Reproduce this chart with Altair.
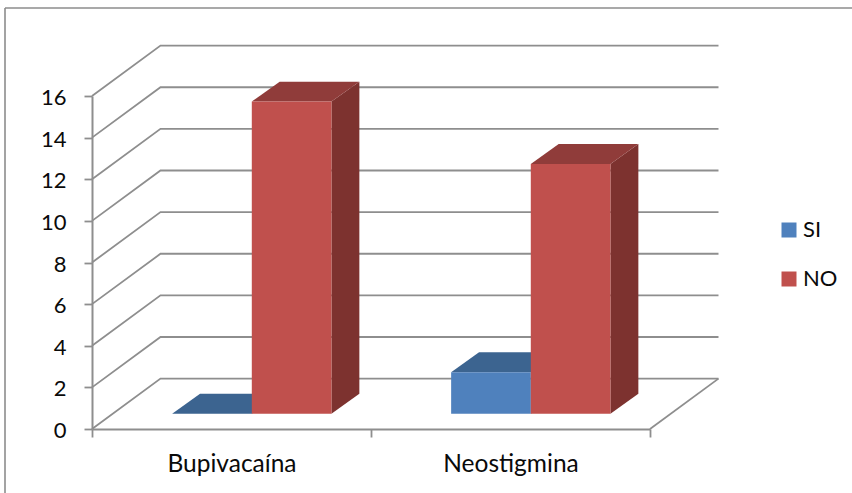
import altair as alt
import pandas as pd

categories = ["Bupivacaína", "Neostigmina"]
series = ["SI", "NO"]
values_si = [0, 2]
values_no = [15, 12]
y_ticks = list(range(0, 17, 2))

# Shades of each series: front face, top face, side face
front = {"SI": "#4F81BD", "NO": "#C0504D"}
top = {"SI": "#3C6490", "NO": "#903C3A"}
side = {"SI": "#345A85", "NO": "#7D322F"}

# Oblique projection, in axis units (one category, one y unit)
wall_dx, wall_dy = 0.2455, 2.42
bar_dx, bar_dy = 0.1, 0.96
bar_w = 0.2855
inset_x, inset_y = (wall_dx - bar_dx) / 2, (wall_dy - bar_dy) / 2
grid_color = "#8E8E8E"
text_color = "#0A0A0A"
font = "Lato"

x_scale = alt.Scale(domain=[0, 2], nice=False, zero=False)
y_scale = alt.Scale(domain=[0, 16], nice=False, zero=False)
X = lambda **kw: alt.X("x:Q", scale=x_scale, **kw)
Y = lambda **kw: alt.Y("y:Q", scale=y_scale, **kw)

# Gridlines running from the front axis, across the side wall, along the back wall
grid_rows = []
for v in y_ticks:
    grid_rows += [
        {"line": v, "o": 0, "x": 0, "y": v},
        {"line": v, "o": 1, "x": wall_dx, "y": v + wall_dy},
        {"line": v, "o": 2, "x": 2 + wall_dx, "y": v + wall_dy},
    ]
grid_rows += [
    {"line": -1, "o": 0, "x": 2 + wall_dx, "y": wall_dy},
    {"line": -1, "o": 1, "x": 2, "y": 0},
]
grid = alt.Chart(pd.DataFrame(grid_rows)).mark_line(
    color=grid_color, strokeWidth=1.8
).encode(
    x=X(
        title=None,
        axis=alt.Axis(
            values=[0, 0.5, 1, 1.5, 2],
            labelExpr="datum.value == 0.5 ? '%s' : datum.value == 1.5 ? '%s' : ''"
            % (categories[0], categories[1]),
            grid=False,
            domainColor=grid_color,
            domainWidth=2,
            tickColor=grid_color,
            tickWidth=1.8,
            tickSize=8,
            tickOpacity={"condition": {"test": "datum.value % 1 == 0", "value": 1}, "value": 0},
            labelFont=font,
            labelFontSize=24.5,
            labelColor=text_color,
            labelPadding=15,
            labelAngle=0,
            labelFlush=False,
            labelOverlap=False,
        ),
    ),
    y=Y(
        title=None,
        axis=alt.Axis(
            values=y_ticks,
            grid=False,
            domainColor=grid_color,
            domainWidth=2,
            tickColor=grid_color,
            tickWidth=1.8,
            tickSize=8,
            labelFont=font,
            labelFontSize=22,
            labelColor=text_color,
            labelPadding=18,
            labelOffset=1.5,
        ),
    ),
    detail="line:N",
    order="o:Q",
)

# One row per bar, with the box corners in axis units
bars = []
for name, vals in zip(series, [values_si, values_no]):
    for i, (cat, v) in enumerate(zip(categories, vals)):
        left = i + 0.5 - bar_w + inset_x if name == "SI" else i + 0.5 + inset_x
        bars.append({"series": name, "cat": cat, "value": v, "x": left, "x2": left + bar_w,
                     "y": inset_y + v, "y2": inset_y})
bars_df = pd.DataFrame(bars)

layers = [grid]
for name in series:
    side_rows, top_rows = [], []
    for b in bars_df[bars_df.series == name].to_dict("records"):
        side_rows += [
            {"cat": b["cat"], "x": b["x2"], "y": b["y"], "y2": b["y2"]},
            {"cat": b["cat"], "x": b["x2"] + bar_dx, "y": b["y"] + bar_dy, "y2": b["y2"] + bar_dy},
        ]
        top_rows += [
            {"cat": b["cat"], "x": b["x"], "x2": b["x2"], "y": b["y"]},
            {"cat": b["cat"], "x": b["x"] + bar_dx, "x2": b["x2"] + bar_dx, "y": b["y"] + bar_dy},
        ]
    layers.append(
        alt.Chart(pd.DataFrame(side_rows)).mark_area(color=side[name]).encode(
            x=X(), y=Y(), y2="y2:Q", detail="cat:N"
        )
    )
    layers.append(
        alt.Chart(pd.DataFrame(top_rows)).mark_area(color=top[name], orient="horizontal").encode(
            y=Y(), x=X(), x2="x2:Q", detail="cat:N"
        )
    )

# Front faces carry the legend
layers.append(
    alt.Chart(bars_df).mark_rect().encode(
        x=X(),
        x2="x2:Q",
        y=Y(),
        y2="y2:Q",
        color=alt.Color(
            "series:N",
            scale=alt.Scale(domain=series, range=[front[s] for s in series]),
            legend=alt.Legend(
                title=None,
                orient="none",
                legendX=686,
                legendY=123,
                symbolType="square",
                symbolSize=225,
                symbolStrokeWidth=0,
                labelFont=font,
                labelFontSize=22,
                labelColor=text_color,
                labelOffset=3,
                rowPadding=27,
            ),
        ),
    )
)

# Chart-area border: only its top and left edges fall inside the frame
border_top = alt.Chart(pd.DataFrame({"a": [0]})).mark_rule(color="#8C8C8C", strokeWidth=1.6).encode(
    x=alt.value(-87), x2=alt.value(760), y=alt.value(-88)
)
border_left = alt.Chart(pd.DataFrame({"a": [0]})).mark_rule(color="#8C8C8C", strokeWidth=1.6).encode(
    x=alt.value(-87), y=alt.value(-88), y2=alt.value(397)
)
layers += [border_top, border_left]

chart = alt.layer(*layers).properties(
    width=558,
    height=333,
    padding={"left": 92, "top": 96, "right": 202, "bottom": 64},
    autosize=alt.AutoSizeParams(type="none"),
    background="white",
).configure_view(stroke=None)

chart.save("out.html", embed_options={"renderer": "svg", "actions": False})
